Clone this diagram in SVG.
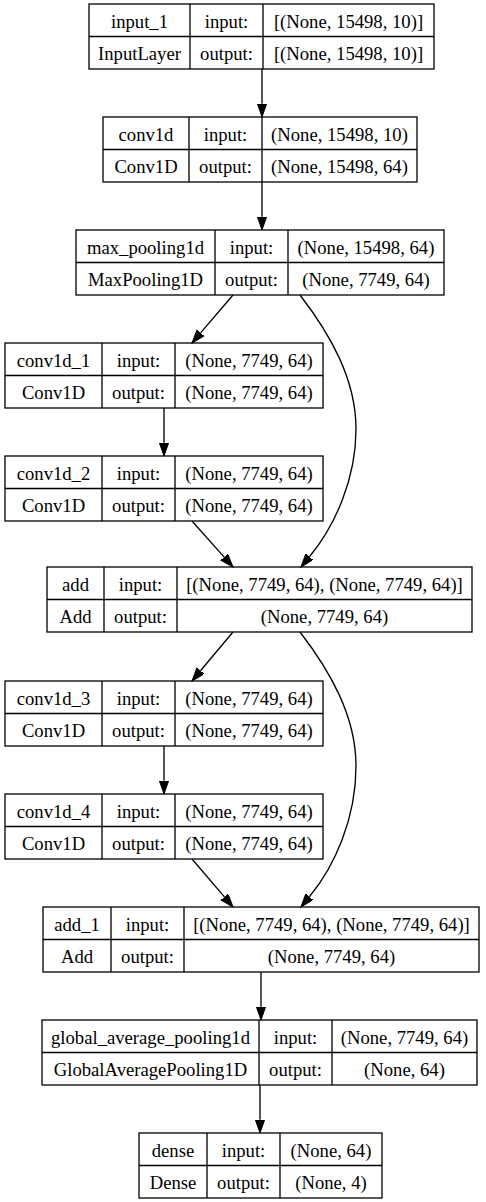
<svg xmlns="http://www.w3.org/2000/svg" width="486" height="1202" viewBox="0 0 486 1202">
  <style>
    .box { fill: #ffffff; stroke: #000000; stroke-width: 1.3; }
    .grid { stroke: #000000; stroke-width: 1.3; fill: none; }
    .t { font-family: "Liberation Serif", "Times New Roman", serif; font-size: 18.67px; fill: #000000; text-anchor: middle; }
    .edge { fill: none; stroke: #000000; stroke-width: 1.33; }
  </style>
  <defs>
    <marker id="arrow" markerUnits="userSpaceOnUse" markerWidth="14" markerHeight="10" refX="0" refY="4.67" orient="auto">
      <path d="M0,0 L13.3,4.67 L0,9.33 Z" fill="#000000" stroke="#000000" stroke-width="1"/>
    </marker>
  </defs>
  <rect width="486" height="1202" fill="#ffffff"/>

  <!-- input_1 -->
  <g id="input_1">
    <rect class="box" x="89" y="4" width="345" height="65"/>
    <path class="grid" d="M89,36.5 H434 M190,4 V69 M263,4 V69"/>
    <text class="t" x="139.5" y="27.5">input_1</text>
    <text class="t" x="226.5" y="27.5">input:</text>
    <text class="t" x="348.5" y="27.5">[(None, 15498, 10)]</text>
    <text class="t" x="139.5" y="60">InputLayer</text>
    <text class="t" x="226.5" y="60">output:</text>
    <text class="t" x="348.5" y="60">[(None, 15498, 10)]</text>
  </g>

  <!-- conv1d -->
  <g id="conv1d">
    <rect class="box" x="103" y="117" width="314" height="65"/>
    <path class="grid" d="M103,149.5 H417 M189,117 V182 M262,117 V182"/>
    <text class="t" x="146" y="140.5">conv1d</text>
    <text class="t" x="225.5" y="140.5">input:</text>
    <text class="t" x="339.5" y="140.5">(None, 15498, 10)</text>
    <text class="t" x="146" y="173">Conv1D</text>
    <text class="t" x="225.5" y="173">output:</text>
    <text class="t" x="339.5" y="173">(None, 15498, 64)</text>
  </g>

  <!-- max_pooling1d -->
  <g id="max_pooling1d">
    <rect class="box" x="76" y="230" width="368" height="65"/>
    <path class="grid" d="M76,262.5 H444 M215,230 V295 M288,230 V295"/>
    <text class="t" x="145.5" y="253.5">max_pooling1d</text>
    <text class="t" x="251.5" y="253.5">input:</text>
    <text class="t" x="366" y="253.5">(None, 15498, 64)</text>
    <text class="t" x="145.5" y="286">MaxPooling1D</text>
    <text class="t" x="251.5" y="286">output:</text>
    <text class="t" x="366" y="286">(None, 7749, 64)</text>
  </g>

  <!-- conv1d_1 -->
  <g id="conv1d_1">
    <rect class="box" x="5" y="343" width="318" height="65"/>
    <path class="grid" d="M5,375.5 H323 M102,343 V408 M175,343 V408"/>
    <text class="t" x="53.5" y="366.5">conv1d_1</text>
    <text class="t" x="138.5" y="366.5">input:</text>
    <text class="t" x="249" y="366.5">(None, 7749, 64)</text>
    <text class="t" x="53.5" y="399">Conv1D</text>
    <text class="t" x="138.5" y="399">output:</text>
    <text class="t" x="249" y="399">(None, 7749, 64)</text>
  </g>

  <!-- conv1d_2 -->
  <g id="conv1d_2">
    <rect class="box" x="5" y="456" width="318" height="65"/>
    <path class="grid" d="M5,488.5 H323 M102,456 V521 M175,456 V521"/>
    <text class="t" x="53.5" y="479.5">conv1d_2</text>
    <text class="t" x="138.5" y="479.5">input:</text>
    <text class="t" x="249" y="479.5">(None, 7749, 64)</text>
    <text class="t" x="53.5" y="512">Conv1D</text>
    <text class="t" x="138.5" y="512">output:</text>
    <text class="t" x="249" y="512">(None, 7749, 64)</text>
  </g>

  <!-- add -->
  <g id="add">
    <rect class="box" x="47" y="567" width="425" height="65"/>
    <path class="grid" d="M47,599.5 H472 M104,567 V632 M177,567 V632"/>
    <text class="t" x="75.5" y="590.5">add</text>
    <text class="t" x="140.5" y="590.5">input:</text>
    <text class="t" x="324.5" y="590.5">[(None, 7749, 64), (None, 7749, 64)]</text>
    <text class="t" x="75.5" y="623">Add</text>
    <text class="t" x="140.5" y="623">output:</text>
    <text class="t" x="324.5" y="623">(None, 7749, 64)</text>
  </g>

  <!-- conv1d_3 -->
  <g id="conv1d_3">
    <rect class="box" x="5" y="681" width="318" height="65"/>
    <path class="grid" d="M5,713.5 H323 M102,681 V746 M175,681 V746"/>
    <text class="t" x="53.5" y="704.5">conv1d_3</text>
    <text class="t" x="138.5" y="704.5">input:</text>
    <text class="t" x="249" y="704.5">(None, 7749, 64)</text>
    <text class="t" x="53.5" y="737">Conv1D</text>
    <text class="t" x="138.5" y="737">output:</text>
    <text class="t" x="249" y="737">(None, 7749, 64)</text>
  </g>

  <!-- conv1d_4 -->
  <g id="conv1d_4">
    <rect class="box" x="5" y="794" width="318" height="65"/>
    <path class="grid" d="M5,826.5 H323 M102,794 V859 M175,794 V859"/>
    <text class="t" x="53.5" y="817.5">conv1d_4</text>
    <text class="t" x="138.5" y="817.5">input:</text>
    <text class="t" x="249" y="817.5">(None, 7749, 64)</text>
    <text class="t" x="53.5" y="850">Conv1D</text>
    <text class="t" x="138.5" y="850">output:</text>
    <text class="t" x="249" y="850">(None, 7749, 64)</text>
  </g>

  <!-- add_1 -->
  <g id="add_1">
    <rect class="box" x="43" y="907" width="436" height="65"/>
    <path class="grid" d="M43,939.5 H479 M111,907 V972 M184,907 V972"/>
    <text class="t" x="77" y="930.5">add_1</text>
    <text class="t" x="147.5" y="930.5">input:</text>
    <text class="t" x="331.5" y="930.5">[(None, 7749, 64), (None, 7749, 64)]</text>
    <text class="t" x="77" y="963">Add</text>
    <text class="t" x="147.5" y="963">output:</text>
    <text class="t" x="331.5" y="963">(None, 7749, 64)</text>
  </g>

  <!-- global_average_pooling1d -->
  <g id="global_average_pooling1d">
    <rect class="box" x="42" y="1020" width="435" height="65"/>
    <path class="grid" d="M42,1052.5 H477 M259,1020 V1085 M332,1020 V1085"/>
    <text class="t" x="150.5" y="1043.5">global_average_pooling1d</text>
    <text class="t" x="295.5" y="1043.5">input:</text>
    <text class="t" x="404.5" y="1043.5">(None, 7749, 64)</text>
    <text class="t" x="150.5" y="1076">GlobalAveragePooling1D</text>
    <text class="t" x="295.5" y="1076">output:</text>
    <text class="t" x="404.5" y="1076">(None, 64)</text>
  </g>

  <!-- dense -->
  <g id="dense">
    <rect class="box" x="139" y="1133" width="243" height="65"/>
    <path class="grid" d="M139,1165.5 H382 M207,1133 V1198 M280,1133 V1198"/>
    <text class="t" x="173" y="1156.5">dense</text>
    <text class="t" x="243.5" y="1156.5">input:</text>
    <text class="t" x="331" y="1156.5">(None, 64)</text>
    <text class="t" x="173" y="1189">Dense</text>
    <text class="t" x="243.5" y="1189">output:</text>
    <text class="t" x="331" y="1189">(None, 4)</text>
  </g>

  <!-- edges -->
  <g id="edges">
    <path class="edge" marker-end="url(#arrow)" d="M262,69 L262,103.7"/>
    <path class="edge" marker-end="url(#arrow)" d="M262,182 L262,216.7"/>
    <path class="edge" marker-end="url(#arrow)" d="M233,295 L200.6,332.9"/>
    <path class="edge" marker-end="url(#arrow)" d="M300,295 C330,334 356,379 356,429 C356,479 335,526 309.4,556.8"/>
    <path class="edge" marker-end="url(#arrow)" d="M164,408 L164,442.7"/>
    <path class="edge" marker-end="url(#arrow)" d="M192,521 L224.2,557.1"/>
    <path class="edge" marker-end="url(#arrow)" d="M233,632 L200.5,670.8"/>
    <path class="edge" marker-end="url(#arrow)" d="M300,632 C330,671 356,716 356,766 C356,818 335,866 309.4,896.8"/>
    <path class="edge" marker-end="url(#arrow)" d="M164,746 L164,780.7"/>
    <path class="edge" marker-end="url(#arrow)" d="M192,859 L224.4,896.9"/>
    <path class="edge" marker-end="url(#arrow)" d="M261,972 L261,1006.7"/>
    <path class="edge" marker-end="url(#arrow)" d="M260,1085 L260,1119.7"/>
  </g>
</svg>
